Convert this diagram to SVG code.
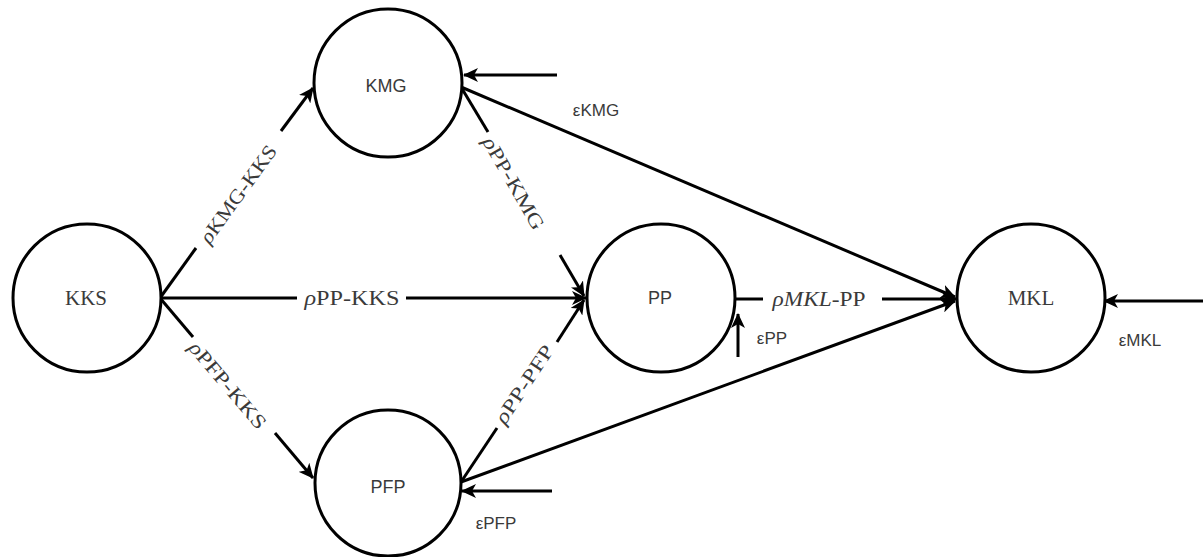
<svg xmlns="http://www.w3.org/2000/svg" width="1203" height="557" viewBox="0 0 1203 557">
<style>
.node{fill:#fff;stroke:#000;stroke-width:3}
.ln{stroke:#000;stroke-width:3;fill:none}
.serif{font-family:"Liberation Serif","Times New Roman",serif;font-size:20px;fill:#3a3a3a}
.nserif{font-family:"Liberation Serif","Times New Roman",serif;font-size:21px;fill:#3a3a3a}
.sans{font-family:"Liberation Sans",Arial,sans-serif;font-size:18px;fill:#3a3a3a}
.eps{font-family:"Liberation Sans",Arial,sans-serif;font-size:17px;fill:#3a3a3a}
</style>
<defs>
<marker id="ah" markerUnits="userSpaceOnUse" markerWidth="16" markerHeight="14" refX="14" refY="7" orient="auto">
<path d="M0,0 L15,7 L0,14 L4,7 z" fill="#000"/>
</marker>
</defs>
<g id="connectors">
<line class="ln" x1="160" y1="298" x2="196" y2="248"/>
<line class="ln" x1="281" y1="131" x2="313" y2="88" marker-end="url(#ah)"/>
<line class="ln" x1="160" y1="298" x2="297" y2="298"/>
<line class="ln" x1="406" y1="298" x2="586" y2="298" marker-end="url(#ah)"/>
<line class="ln" x1="160" y1="298" x2="193" y2="337"/>
<line class="ln" x1="275" y1="433" x2="313" y2="478" marker-end="url(#ah)"/>
<line class="ln" x1="461" y1="87" x2="488" y2="132"/>
<line class="ln" x1="560" y1="255" x2="584" y2="296" marker-end="url(#ah)"/>
<line class="ln" x1="461" y1="482" x2="497" y2="428"/>
<line class="ln" x1="557" y1="342" x2="584" y2="300" marker-end="url(#ah)"/>
<line class="ln" x1="461" y1="87" x2="955" y2="297" marker-end="url(#ah)"/>
<line class="ln" x1="461" y1="482" x2="955" y2="301" marker-end="url(#ah)"/>
<line class="ln" x1="735" y1="299" x2="763" y2="299"/>
<line class="ln" x1="882" y1="299" x2="956" y2="299" marker-end="url(#ah)"/>
<line class="ln" x1="557" y1="75" x2="464" y2="75" marker-end="url(#ah)"/>
<line class="ln" x1="738" y1="357" x2="738" y2="314" marker-end="url(#ah)"/>
<line class="ln" x1="1203" y1="301" x2="1104" y2="301" marker-end="url(#ah)"/>
<line class="ln" x1="552" y1="491" x2="462" y2="491" marker-end="url(#ah)"/>
</g>
<g id="labels">
<text class="serif" text-anchor="middle" dominant-baseline="central" textLength="116" lengthAdjust="spacingAndGlyphs" transform="translate(238,194) rotate(-54)"><tspan font-style="italic">ρ</tspan>KMG-KKS</text>
<text class="serif" x="352" y="298" text-anchor="middle" dominant-baseline="central" textLength="95" lengthAdjust="spacingAndGlyphs"><tspan font-style="italic">ρ</tspan>PP-KKS</text>
<text class="serif" text-anchor="middle" dominant-baseline="central" textLength="108" lengthAdjust="spacingAndGlyphs" transform="translate(228,385) rotate(49.7)"><tspan font-style="italic">ρ</tspan>PFP-KKS</text>
<text class="serif" text-anchor="middle" dominant-baseline="central" textLength="104" lengthAdjust="spacingAndGlyphs" transform="translate(514,183) rotate(60)"><tspan font-style="italic">ρ</tspan>PP-KMG</text>
<text class="serif" text-anchor="middle" dominant-baseline="central" textLength="90" lengthAdjust="spacingAndGlyphs" transform="translate(524,384) rotate(-56.6)"><tspan font-style="italic">ρ</tspan>PP-PFP</text>
<text class="serif" x="819" y="299" text-anchor="middle" dominant-baseline="central" textLength="93" lengthAdjust="spacingAndGlyphs"><tspan font-style="italic">ρMKL</tspan>-PP</text>
<text class="eps" x="596" y="110" text-anchor="middle" dominant-baseline="central">εKMG</text>
<text class="eps" x="772" y="338" text-anchor="middle" dominant-baseline="central">εPP</text>
<text class="eps" x="1140" y="340" text-anchor="middle" dominant-baseline="central">εMKL</text>
<text class="eps" x="496" y="523" text-anchor="middle" dominant-baseline="central">εPFP</text>
</g>
<g id="KKS">
<circle class="node" cx="87" cy="298" r="74"/>
<text class="nserif" x="86" y="298" text-anchor="middle" dominant-baseline="central">KKS</text>
</g>
<g id="KMG">
<circle class="node" cx="388" cy="83" r="74"/>
<text class="sans" x="386" y="86" text-anchor="middle" dominant-baseline="central">KMG</text>
</g>
<g id="PP">
<circle class="node" cx="661" cy="298" r="74"/>
<text class="sans" x="660" y="298" text-anchor="middle" dominant-baseline="central">PP</text>
</g>
<g id="MKL">
<circle class="node" cx="1031" cy="298" r="74"/>
<text class="nserif" x="1031" y="298" text-anchor="middle" dominant-baseline="central">MKL</text>
</g>
<g id="PFP">
<circle class="node" cx="388" cy="483" r="73"/>
<text class="sans" x="388" y="487" text-anchor="middle" dominant-baseline="central">PFP</text>
</g>
</svg>
